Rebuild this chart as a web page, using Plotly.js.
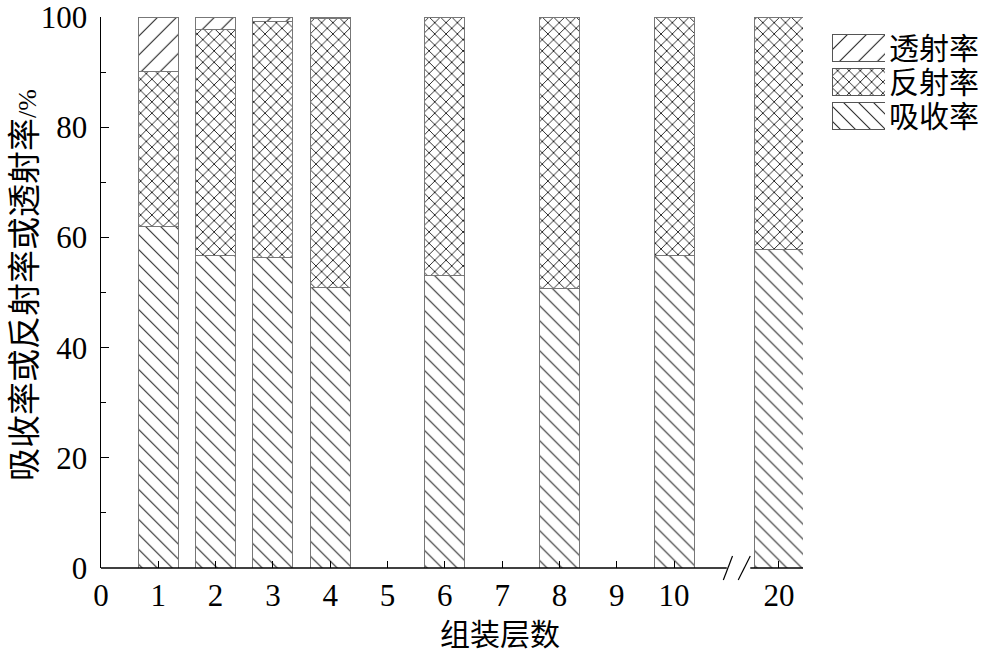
<!DOCTYPE html>
<html>
<head>
<meta charset="utf-8">
<script src="https://cdn.plot.ly/plotly-3.0.1.min.js"></script>
<style>html,body{margin:0;padding:0;background:#fff;}#chart{width:1000px;height:655px;}</style>
</head>
<body>
<div id="chart"></div>
<script>
// ---- data ----
const layers = [1, 2, 3, 4, 6, 8, 10, 20];
const absorption = [62.0, 56.8, 56.4, 51.0, 53.1, 50.7, 56.7, 57.8];
const reflection = [28.2, 41.0, 42.9, 48.8, 46.9, 49.3, 43.3, 42.2];
const transmission = [9.8, 2.2, 0.7, 0.2, 0, 0, 0, 0];
const seriesNames = ['吸收率', '反射率', '透射率'];
const xTickValues = [0, 1, 2, 3, 4, 5, 6, 7, 8, 9, 10, 20];
const yTickValues = [0, 20, 40, 60, 80, 100];
const xTitle = '组装层数';
const yTitle = '吸收率或反射率或透射率';
const yUnit = '/%';

// ---- broken x axis: values above 10 are drawn after the break ----
const BREAK_START = 10.92, BREAK_END = 11.33, AFTER_BREAK = 11.83, X_MAX = 12.25;
function pos(v) { return v <= 10 ? v : AFTER_BREAK + (v - 20) * 0.05; }
const xs = layers.map(pos);
const widths = layers.map(v => v <= 10 ? 0.70 : 0.84);

const serifFont = 'Liberation Serif, Times New Roman, serif';
const cjkFont = 'Noto Sans CJK SC, sans-serif';

const patterns = {
  '吸收率': {shape: '\\', size: 10.6, solidity: 0.1, fgcolor: '#222', bgcolor: '#fff'},
  '反射率': {shape: 'x', size: 8, solidity: 0.22, fgcolor: '#222', bgcolor: '#fff'},
  '透射率': {shape: '/', size: 13.4, solidity: 0.08, fgcolor: '#222', bgcolor: '#fff'}
};
const values = {'吸收率': absorption, '反射率': reflection, '透射率': transmission};

const traces = seriesNames.map(name => ({
  type: 'bar', x: xs, y: values[name], width: widths, name: name,
  marker: {color: '#fff', pattern: patterns[name], line: {color: '#777', width: 1}},
  showlegend: false, hoverinfo: 'skip', xaxis: 'x', yaxis: 'y'
}));

// legend swatches drawn as patterned bars on a small side axis
const legendOrder = ['透射率', '反射率', '吸收率'];
legendOrder.forEach(name => {
  traces.push({
    type: 'bar', orientation: 'h', x: [1], y: [name], width: 0.78, name: name,
    marker: {color: '#fff', pattern: patterns[name], line: {color: '#555', width: 1}},
    showlegend: false, hoverinfo: 'skip', xaxis: 'x2', yaxis: 'y2'
  });
});

const plotW = 1000 - 101 - 10, plotH = 655 - 17 - 87;
const px2x = p => (p - 101) / plotW;
const px2y = p => (568 - p) / plotH;

const layout = {
  width: 1000, height: 655,
  margin: {l: 101, r: 10, t: 17, b: 87},
  paper_bgcolor: '#fff', plot_bgcolor: '#fff',
  barmode: 'stack',
  xaxis: {
    domain: [0, px2x(803)], range: [0, X_MAX],
    tickmode: 'array', tickvals: xTickValues.map(pos), ticktext: xTickValues.map(String),
    ticks: 'inside', ticklen: 7, tickwidth: 1, tickcolor: '#000',
    showline: false, showgrid: false, zeroline: false,
    tickfont: {family: serifFont, size: 31, color: '#000'}, ticklabelstandoff: 6
  },
  yaxis: {
    domain: [0, 1], range: [0, 100.05], tickmode: 'array', tickvals: yTickValues,
    ticktext: yTickValues.map(String),
    ticks: 'inside', ticklen: 8, tickwidth: 1, tickcolor: '#000',
    minor: {dtick: 10, tick0: 0, ticks: 'inside', ticklen: 5, tickcolor: '#000'},
    showline: true, linecolor: '#000', linewidth: 1.5,
    showgrid: false, zeroline: false,
    tickfont: {family: serifFont, size: 31, color: '#000'}, ticklabelstandoff: 6
  },
  xaxis2: {domain: [px2x(832), px2x(885)], range: [0, 1], anchor: 'y2', visible: false, fixedrange: true},
  yaxis2: {
    domain: [px2y(133), px2y(31)], anchor: 'x2', side: 'right', type: 'category',
    categoryorder: 'array', categoryarray: legendOrder.slice().reverse(),
    tickmode: 'array', tickvals: legendOrder, ticktext: legendOrder,
    showline: false, showgrid: false, zeroline: false, ticks: '',
    tickfont: {family: cjkFont, size: 30, color: '#000'}, ticklabelstandoff: 3
  },
  shapes: [
    {type: 'line', xref: 'x', yref: 'paper', x0: 0, x1: BREAK_START, y0: 0, y1: 0, line: {color: '#000', width: 1.5}},
    {type: 'line', xref: 'x', yref: 'paper', x0: BREAK_END, x1: X_MAX, y0: 0, y1: 0, line: {color: '#000', width: 1.5}},
    {type: 'line', xref: 'x', yref: 'paper', x0: 10.86, x1: 11.02, y0: px2y(580), y1: px2y(556), line: {color: '#000', width: 1.2}},
    {type: 'line', xref: 'x', yref: 'paper', x0: 11.12, x1: 11.33, y0: px2y(580), y1: px2y(556), line: {color: '#000', width: 1.2}}
  ],
  annotations: [
    {text: xTitle, xref: 'paper', yref: 'paper', x: px2x(500), y: px2y(632),
     xanchor: 'center', yanchor: 'middle', showarrow: false,
     font: {family: cjkFont, size: 30, color: '#000'}},
    {text: yTitle + '<span style="font-family:Liberation Serif;font-size:26px">' + yUnit + '</span>',
     xref: 'paper', yref: 'paper', x: px2x(22), y: px2y(285),
     xanchor: 'center', yanchor: 'middle', textangle: -90, showarrow: false,
     font: {family: cjkFont, size: 33, color: '#000'}}
  ]
};

Plotly.newPlot('chart', traces, layout, {staticPlot: true, displayModeBar: false});
</script>
</body>
</html>
